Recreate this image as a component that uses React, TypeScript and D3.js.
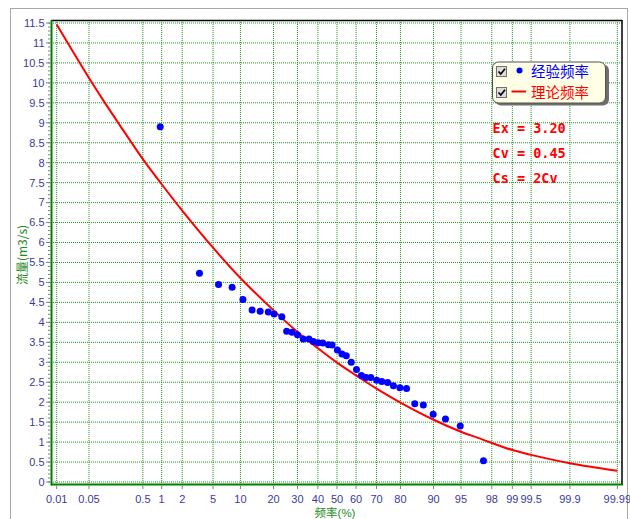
import React from "react";
import * as d3 from "d3";

// Empirical frequency points: exceedance probability (%) and discharge (m3/s)
const empiricalP = [
  0.95, 3.4, 5.8, 8.2, 10.6, 13.0, 15.4, 18.1, 20.2, 23.2,
  25.2, 27.5, 30.0, 32.7, 35.5, 37.7, 40.1, 42.5, 45.5, 47.4,
  50.2, 52.6, 54.9, 57.5, 60.2, 62.7, 65.0, 67.3, 70.1, 72.4,
  74.9, 77.3, 79.8, 82.2, 84.9, 87.4, 89.9, 92.5, 94.9, 97.4,
];
const empiricalQ = [
  8.9, 5.23, 4.95, 4.88, 4.57, 4.31, 4.28, 4.26, 4.21, 4.14,
  3.78, 3.75, 3.69, 3.58, 3.58, 3.52, 3.49, 3.48, 3.44, 3.43,
  3.31, 3.21, 3.16, 3.0, 2.82, 2.67, 2.62, 2.62, 2.55, 2.52,
  2.49, 2.41, 2.36, 2.34, 1.96, 1.93, 1.7, 1.58, 1.4, 0.53,
];

// Theoretical (Pearson III) frequency curve
const curveP = [
  0.01, 0.05, 0.1, 0.2, 0.5, 1, 2, 5, 10, 20, 30, 40, 50, 60,
  70, 80, 90, 95, 97, 99, 99.5, 99.9, 99.99,
];
const curveQ = [
  11.46, 10.12, 9.53, 8.93, 8.09, 7.46, 6.8, 5.87, 5.11, 4.3, 3.76, 3.35,
  2.99, 2.67, 2.34, 1.99, 1.56, 1.26, 1.1, 0.8, 0.68, 0.47, 0.28,
];

const xTicks = [
  0.01, 0.05, 0.5, 1, 2, 5, 10, 20, 30, 40, 50, 60, 70, 80, 90, 95, 98, 99,
  99.5, 99.9, 99.99,
];
const xTickLabels = [
  "0.01", "0.05", "0.5", "1", "2", "5", "10", "20", "30", "40", "50", "60",
  "70", "80", "90", "95", "98", "99", "99.5", "99.9", "99.99",
];
const yTicks = [
  0, 0.5, 1, 1.5, 2, 2.5, 3, 3.5, 4, 4.5, 5, 5.5, 6, 6.5, 7, 7.5, 8, 8.5, 9,
  9.5, 10, 10.5, 11, 11.5,
];
const yMinorTicks = d3.range(0, 116).map((i) => i / 10);

const paramLines = ["Ex = 3.20", "Cv = 0.45", "Cs = 2Cv"];
const legendLabels = ["经验频率", "理论频率"];

// Inverse standard normal CDF (Acklam) used for the probability axis
function normInv(p: number): number {
  const a = [-3.969683028665376e1, 2.209460984245205e2, -2.759285104469687e2, 1.38357751867269e2, -3.066479806614716e1, 2.506628277459239];
  const b = [-5.447609879822406e1, 1.615858368580409e2, -1.556989798598866e2, 6.680131188771972e1, -1.328068155288572e1];
  const c = [-7.784894002430293e-3, -3.223964580411365e-1, -2.400758277161838, -2.549732539343734, 4.374664141464968, 2.938163982698783];
  const d = [7.784695709041462e-3, 3.224671290700398e-1, 2.445134137142996, 3.754408661907416];
  const plow = 0.02425;
  const phigh = 1 - plow;
  let q: number, r: number;
  if (p < plow) {
    q = Math.sqrt(-2 * Math.log(p));
    return (((((c[0] * q + c[1]) * q + c[2]) * q + c[3]) * q + c[4]) * q + c[5]) /
      ((((d[0] * q + d[1]) * q + d[2]) * q + d[3]) * q + 1);
  }
  if (p <= phigh) {
    q = p - 0.5;
    r = q * q;
    return ((((((a[0] * r + a[1]) * r + a[2]) * r + a[3]) * r + a[4]) * r + a[5]) * q) /
      (((((b[0] * r + b[1]) * r + b[2]) * r + b[3]) * r + b[4]) * r + 1);
  }
  q = Math.sqrt(-2 * Math.log(1 - p));
  return -(((((c[0] * q + c[1]) * q + c[2]) * q + c[3]) * q + c[4]) * q + c[5]) /
    ((((d[0] * q + d[1]) * q + d[2]) * q + d[3]) * q + 1);
}

const W = 630;
const H = 519;
const plot = { left: 51, right: 622, top: 20, bottom: 484 };

const zScale = d3
  .scaleLinear()
  .domain([normInv(0.0001), normInv(0.9999)])
  .range([56.7, 617.3]);
const px = (p: number) => zScale(normInv(p / 100));
const yScale = d3.scaleLinear().domain([0, 11.5]).range([482, 23]);

const numFont = "'Liberation Sans', Arial, sans-serif";
const cjkFont = "'Noto Sans CJK SC', sans-serif";
const titleFont = "'Liberation Sans', 'Noto Sans CJK SC', sans-serif";
const labelColor = "#3a3a9c";
const gridColor = "#1a9a1a";

export default function App() {
  const curvePath = d3
    .line<number>()
    .x((_, i) => px(curveP[i]))
    .y((q) => yScale(q))
    .curve(d3.curveCatmullRom.alpha(0.5))(curveQ) as string;

  return (
    <svg
      width={W}
      height={H}
      style={{ position: "absolute", left: 0, top: 0, background: "#fff" }}
    >
      {/* outer frame */}
      <rect x={10.5} y={8.5} width={617} height={520} fill="#fff" stroke="#a8a8a8" />

      {/* grid */}
      <g stroke={gridColor} strokeWidth={1} strokeDasharray="1,1">
        {yTicks.map((t) => (
          <line key={"gy" + t} x1={plot.left} x2={plot.right} y1={yScale(t)} y2={yScale(t)} />
        ))}
        {xTicks.map((t) => (
          <line key={"gx" + t} x1={px(t)} x2={px(t)} y1={plot.top} y2={plot.bottom} />
        ))}
      </g>

      {/* frame of the plot */}
      <line x1={plot.left} x2={plot.right} y1={20.5} y2={20.5} stroke="#000" strokeWidth={1.5} />
      <line x1={622} x2={622} y1={plot.top} y2={plot.bottom} stroke="#000" strokeWidth={1.5} />
      <line x1={plot.left} x2={plot.right + 1} y1={484.5} y2={484.5} stroke="#008000" strokeWidth={2} />
      <line x1={51.5} x2={51.5} y1={plot.top} y2={485.5} stroke="#008000" strokeWidth={2} />

      {/* ticks */}
      <g stroke="#808080">
        {yMinorTicks.map((t) => (
          <line key={"ym" + t} x1={48} x2={50.5} y1={yScale(t)} y2={yScale(t)} />
        ))}
        {yTicks.map((t) => (
          <line key={"yt" + t} x1={46} x2={50.5} y1={yScale(t)} y2={yScale(t)} />
        ))}
        {xTicks.map((t) => (
          <line key={"xt" + t} x1={px(t)} x2={px(t)} y1={485.5} y2={489} />
        ))}
      </g>
      <g fontFamily={numFont} fontSize={11} fill={labelColor} textAnchor="end">
        {yTicks.map((t) => (
          <text key={"yl" + t} x={44.5} y={yScale(t)} dy="0.35em">
            {String(t)}
          </text>
        ))}
      </g>
      <g fontFamily={numFont} fontSize={11} fill={labelColor} textAnchor="middle">
        {xTicks.map((t, i) => (
          <text key={"xl" + t} x={px(t)} y={503}>
            {xTickLabels[i]}
          </text>
        ))}
      </g>

      {/* axis titles */}
      <text x={335} y={516.5} textAnchor="middle" fontFamily={titleFont} fontSize={11.5} fill="#1e8c1e">
        频率(%)
      </text>
      <text
        transform="translate(27,255) rotate(-90)"
        textAnchor="middle"
        fontFamily={cjkFont}
        fontSize={12}
        fill="#1e8c1e"
      >
        流量(m3/s)
      </text>

      {/* theoretical curve */}
      <path d={curvePath} fill="none" stroke="#ff0000" strokeWidth={2} />

      {/* empirical points */}
      <g fill="#0000ff">
        {empiricalQ.map((q, i) => (
          <circle key={"pt" + i} cx={px(empiricalP[i])} cy={yScale(q)} r={3.5} />
        ))}
      </g>

      {/* legend */}
      <rect x={495} y={64.5} width={114} height={41} rx={6} fill="#6e6e6e" />
      <rect x={492.5} y={62} width={113} height={41} rx={6} fill="#ffffe6" stroke="#505050" />
      {[0, 1].map((i) => (
        <g key={"cb" + i}>
          <rect x={496.5} y={66.5 + i * 21} width={10} height={10} fill="#dcdcdc" stroke="#707070" />
          <path
            d={`M498.5,${71.5 + i * 21} l2.3,2.6 l4.2,-5.4`}
            fill="none"
            stroke="#000"
            strokeWidth={1.6}
          />
        </g>
      ))}
      <circle cx={519.5} cy={70.5} r={3} fill="#0000ff" />
      <line x1={511.5} x2={526} y1={91.5} y2={91.5} stroke="#ff0000" strokeWidth={2} />
      <text x={531} y={76.5} fontFamily={cjkFont} fontSize={14.5} fill="#0000ff">
        {legendLabels[0]}
      </text>
      <text x={531} y={97.5} fontFamily={cjkFont} fontSize={14.5} fill="#ff0000">
        {legendLabels[1]}
      </text>

      {/* distribution parameters */}
      <g fontFamily="'DejaVu Sans Mono', monospace" fontWeight="bold" fontSize={13.5} fill="#ff0000">
        {paramLines.map((s, i) => (
          <text key={"pl" + i} x={492.5} y={133 + i * 25} style={{ whiteSpace: "pre" }}>
            {s}
          </text>
        ))}
      </g>
    </svg>
  );
}
